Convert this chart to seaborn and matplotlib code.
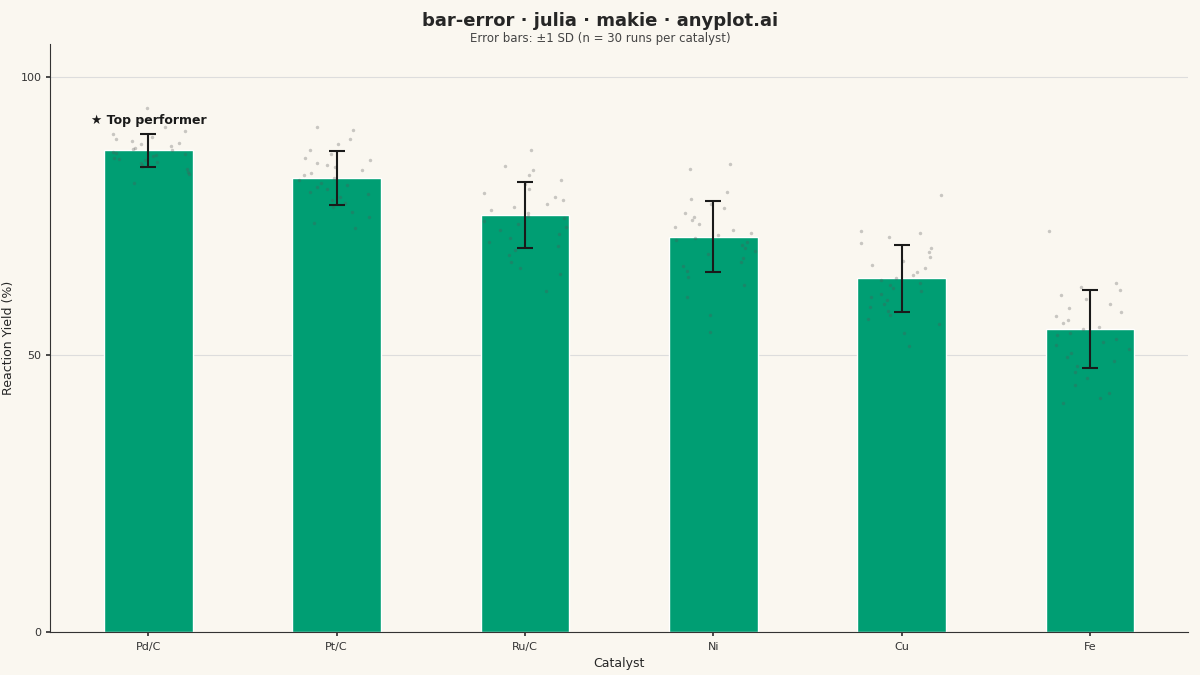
import numpy as np
import pandas as pd
import matplotlib
matplotlib.use("Agg")
import matplotlib.pyplot as plt
import seaborn as sns

# ---------- data ----------
CATALYSTS = ["Pd/C", "Pt/C", "Ru/C", "Ni", "Cu", "Fe"]
MEANS = [86.8, 81.8, 75.2, 71.3, 63.8, 54.7]
SDS = [3.0, 4.9, 6.0, 6.4, 6.0, 7.0]
RUNS = {
    "Pd/C": [94.4, 92.5, 91.0, 90.3, 89.8, 89.2, 88.9, 88.5, 88.2, 87.9, 87.6, 87.3, 87.1, 86.9, 86.6,
             86.4, 86.2, 86.0, 85.8, 85.5, 85.3, 85.0, 84.8, 84.5, 84.2, 83.8, 83.4, 82.9, 82.5, 81.0],
    "Pt/C": [91.0, 90.5, 88.8, 88.0, 86.8, 86.2, 85.5, 85.0, 84.6, 84.2, 83.8, 83.2, 82.8, 82.3, 81.9,
             81.5, 81.0, 80.6, 80.2, 79.8, 79.3, 78.9, 78.4, 77.9, 77.3, 76.6, 75.8, 74.9, 73.8, 72.9],
    "Ru/C": [86.8, 84.0, 83.2, 82.3, 81.5, 80.8, 79.9, 79.2, 78.4, 77.8, 77.1, 76.6, 76.0, 75.5, 75.0,
             74.6, 74.1, 73.6, 73.0, 72.4, 71.8, 71.1, 70.4, 69.6, 68.8, 67.9, 66.8, 65.6, 64.5, 61.5],
    "Ni":   [84.3, 83.5, 79.4, 78.0, 77.2, 76.4, 75.6, 74.9, 74.2, 73.6, 73.0, 72.5, 72.0, 71.5, 71.1,
             70.7, 70.3, 69.8, 69.3, 68.7, 68.1, 67.5, 66.8, 66.0, 65.1, 64.0, 62.6, 60.5, 57.1, 54.2],
    "Cu":   [78.8, 72.3, 72.0, 71.2, 70.2, 69.3, 68.5, 67.6, 66.9, 66.2, 65.6, 65.0, 64.4, 63.9, 63.4,
             63.0, 62.5, 62.0, 61.5, 61.0, 60.4, 59.8, 59.2, 58.6, 57.9, 57.2, 56.4, 55.6, 54.0, 51.6],
    "Fe":   [72.3, 63.0, 62.3, 61.6, 60.8, 60.0, 59.2, 58.4, 57.7, 57.0, 56.3, 55.7, 55.1, 54.6, 54.0,
             53.5, 52.9, 52.3, 51.7, 51.0, 50.3, 49.6, 48.8, 47.9, 46.9, 45.8, 44.5, 43.2, 42.2, 41.3],
}

BG = "#faf7f0"
GREEN = "#009E73"

sns.set_theme(style="white")
plt.rcParams["font.family"] = ["DejaVu Sans"]

fig, ax = plt.subplots(figsize=(12, 6.75), dpi=100)
fig.patch.set_facecolor(BG)
ax.set_facecolor(BG)

bar_df = pd.DataFrame({"catalyst": CATALYSTS, "mean": MEANS})
sns.barplot(data=bar_df, x="catalyst", y="mean", color=GREEN, saturation=1,
            width=0.47, ax=ax, zorder=2)

pts = pd.DataFrame([(c, v) for c in CATALYSTS for v in RUNS[c]], columns=["catalyst", "yield"])
sns.stripplot(data=pts, x="catalyst", y="yield", order=CATALYSTS, color="#555555",
              alpha=0.3, size=2.5, jitter=0.22, ax=ax, zorder=3)

ax.errorbar(range(len(CATALYSTS)), MEANS, yerr=SDS, fmt="none", ecolor="#1a1a1a",
            elinewidth=1.5, capsize=6, capthick=1.5, zorder=4)

ax.text(0, MEANS[0] + SDS[0] + 1.2, "★ Top performer", ha="center", va="bottom",
        fontsize=9, fontweight="bold", color="#1a1a1a", zorder=5)

ax.set_ylim(0, 106)
ax.set_xlim(-0.52, 5.52)
ax.set_yticks([0, 50, 100])
ax.tick_params(axis="both", labelsize=8, colors="#333333", length=3, left=True, bottom=True)
ax.yaxis.grid(True, color="#dddddd", linewidth=0.8, zorder=0)
ax.set_axisbelow(True)
for s in ["top", "right"]:
    ax.spines[s].set_visible(False)
for s in ["left", "bottom"]:
    ax.spines[s].set_color("#333333")
    ax.spines[s].set_linewidth(0.8)

ax.set_xlabel("Catalyst", fontsize=9)
ax.set_ylabel("Reaction Yield (%)", fontsize=9)

fig.suptitle("bar-error · julia · makie · anyplot.ai", fontsize=13, fontweight="bold", y=0.982)
fig.text(0.5, 0.938, "Error bars: ±1 SD (n = 30 runs per catalyst)", ha="center",
         fontsize=8.5, color="#444444")

fig.subplots_adjust(left=0.042, right=0.99, top=0.935, bottom=0.063)
fig.savefig("out.png", facecolor=BG)
